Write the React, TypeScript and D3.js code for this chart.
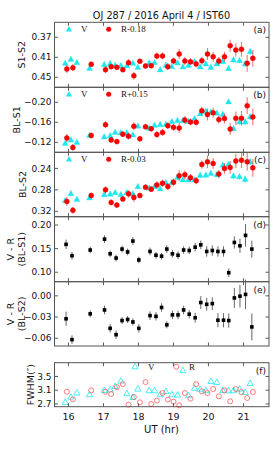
import React from "react";
import * as d3 from "d3";

// ---------- data ----------
const tV = [15.906,16.068,16.239,16.601,17.02,17.191,17.334,17.496,17.668,17.839,17.982,18.306,18.458,18.62,18.782,18.953,19.115,19.268,19.43,19.601,19.763,19.925,20.068,20.239,20.41,20.572,20.715,20.887,21.049,21.191];
const tR = [15.953,16.125,16.649,17.058,17.22,17.382,17.553,17.715,17.868,18.039,18.201,18.363,18.525,18.687,18.839,19.001,19.163,19.325,19.487,19.649,19.811,19.972,20.134,20.296,20.458,20.62,20.782,20.944,21.106,21.268];
const tVR = [15.93,16.10,16.62,17.03,17.19,17.36,17.53,17.69,17.84,18.01,18.33,18.50,18.66,18.81,18.97,19.13,19.29,19.45,19.62,19.78,19.95,20.11,20.27,20.43,20.58,20.74,20.90,21.06,21.24];

const aV = [0.422,0.414,0.4207,0.432,0.4247,0.4227,0.426,0.4267,0.4273,0.422,0.43,0.4213,0.4207,0.4353,0.426,0.4287,0.4213,0.4293,0.426,0.4193,0.4293,0.4233,0.43,0.4233,0.4187,0.4327,0.4153,0.4167,0.4233,0.3987];
const aR = [0.4333,0.4307,0.424,0.4347,0.4287,0.43,0.4347,0.4207,0.4467,0.418,0.4273,0.4267,0.4073,0.4073,0.4287,0.4173,0.4033,0.4173,0.4187,0.4233,0.4167,0.4033,0.4087,0.4173,0.4087,0.3867,0.3953,0.394,0.422,0.412];
const bV = [-0.118,-0.1247,-0.12,-0.1336,-0.1308,-0.1329,-0.1397,-0.139,-0.139,-0.1349,-0.1525,-0.1478,-0.1539,-0.1553,-0.1559,-0.1614,-0.1634,-0.1634,-0.162,-0.1675,-0.177,-0.1817,-0.1803,-0.1783,-0.1756,-0.2007,-0.1471,-0.1607,-0.1607,-0.1708];
const bR = [-0.1288,-0.1098,-0.1336,-0.1553,-0.1248,-0.1214,-0.1363,-0.1322,-0.152,-0.127,-0.151,-0.147,-0.1356,-0.1397,-0.1532,-0.15,-0.1485,-0.1647,-0.1607,-0.16,-0.183,-0.1756,-0.179,-0.1654,-0.1675,-0.1464,-0.1681,-0.1681,-0.1932,-0.1708];
const cV = [0.300,0.287,0.298,0.295,0.289,0.288,0.285,0.289,0.285,0.2874,0.274,0.2769,0.274,0.278,0.2665,0.2665,0.2566,0.2616,0.2616,0.2616,0.253,0.2524,0.2492,0.2518,0.2339,0.2326,0.2542,0.2555,0.2603,0.2278];
const cR = [0.3015,0.318,0.2905,0.28,0.3034,0.3082,0.2971,0.2874,0.2942,0.2905,0.275,0.2787,0.2708,0.2677,0.2739,0.2658,0.2536,0.2518,0.2573,0.2629,0.2326,0.2278,0.2308,0.2505,0.24,0.2382,0.226,0.2247,0.2278,0.239];
const errV = [0.003,0.003,0.003,0.003,0.003,0.003,0.003,0.003,0.003,0.003,0.003,0.003,0.003,0.003,0.003,0.003,0.003,0.003,0.003,0.003,0.004,0.004,0.004,0.004,0.004,0.004,0.005,0.005,0.006,0.006];
const errR = [0.008,0.0067,0.0053,0.0067,0.0053,0.0053,0.0053,0.0067,0.008,0.0053,0.0053,0.0053,0.0067,0.0067,0.0067,0.0067,0.01,0.008,0.0067,0.0067,0.008,0.012,0.01,0.008,0.01,0.012,0.0133,0.0147,0.0167,0.0167];

const dVR = [0.159,0.135,0.147,0.170,0.139,0.130,0.149,0.143,0.166,0.126,0.144,0.136,0.134,0.149,0.139,0.136,0.147,0.146,0.153,0.158,0.144,0.146,0.144,0.144,0.099,0.163,0.156,0.178,0.149];
const errD = [0.010,0.008,0.007,0.008,0.007,0.007,0.007,0.007,0.008,0.007,0.008,0.007,0.007,0.008,0.008,0.008,0.008,0.008,0.009,0.009,0.011,0.011,0.011,0.011,0.009,0.013,0.015,0.024,0.018];
const eVR = [-0.0325,-0.062,-0.0255,-0.020,-0.046,-0.055,-0.035,-0.0335,-0.037,-0.046,-0.028,-0.029,-0.0165,-0.041,-0.027,-0.027,-0.020,-0.026,-0.031,-0.0095,-0.012,-0.011,-0.0345,-0.0345,-0.035,-0.003,-0.0005,0.002,-0.044];
const errE = [0.010,0.006,0.005,0.006,0.006,0.006,0.005,0.005,0.005,0.006,0.006,0.006,0.006,0.005,0.006,0.006,0.006,0.006,0.007,0.009,0.009,0.009,0.010,0.010,0.010,0.014,0.016,0.021,0.019];

const fV = [2.748,2.902,3.018,2.97,3.095,3.114,3.21,3.365,3.0,2.89,3.134,3.086,3.086,2.97,3.066,2.97,2.96,3.67,2.94,3.16,3.13,3.095,3.355,3.327,3.095,3.086,3.086,3.134,3.037,3.297];
const fR = [3.057,2.835,3.095,3.057,2.989,3.19,3.278,2.68,2.902,2.748,3.336,2.70,2.796,3.018,2.826,2.768,2.66,3.018,2.854,3.278,3.066,3.018,3.134,2.922,3.095,2.777,3.134,3.047,2.873,3.047];

const xTicks = [16, 17, 18, 19, 20, 21];

// ---------- layout ----------
const W = 274, H = 457;
const L = 54.5, R = 269;
const x = d3.scaleLinear().domain([15.6, 21.73]).range([L, R]);

const CYAN = "#1ee8ee";
const RED = "#ff0000";

type Panel = {
  top: number; bottom: number; domain: [number, number]; invert: boolean;
  ticks: number[]; fmt: (v: number) => string; label: string[]; labelX: number; tag: string;
};

const minus = (s: string) => s.replace("-", "\u2212");
const f2 = (v: number) => minus(v.toFixed(2));
const f1 = (v: number) => v.toFixed(1);

const panels: Panel[] = [
  { top: 22.3, bottom: 87.3, domain: [0.34, 0.47], invert: true, ticks: [0.37, 0.41, 0.45], fmt: f2, label: ["S1-S2"], labelX: 22, tag: "(a)" },
  { top: 87.3, bottom: 152.3, domain: [-0.23, -0.10], invert: true, ticks: [-0.20, -0.16, -0.12], fmt: f2, label: ["BL-S1"], labelX: 17, tag: "(b)" },
  { top: 152.3, bottom: 216.7, domain: [0.21, 0.33], invert: true, ticks: [0.24, 0.28, 0.32], fmt: f2, label: ["BL-S2"], labelX: 23, tag: "(c)" },
  { top: 216.7, bottom: 281.7, domain: [0.08, 0.2175], invert: false, ticks: [0.10, 0.15, 0.20], fmt: f2, label: ["V - R", "(BL-S1)"], labelX: 18, tag: "(d)" },
  { top: 281.7, bottom: 346, domain: [-0.071, 0.02], invert: false, ticks: [-0.06, -0.03, 0.0], fmt: f2, label: ["V - R", "(BL-S2)"], labelX: 18, tag: "(e)" },
  { top: 362.7, bottom: 406.7, domain: [2.62, 3.9], invert: false, ticks: [2.7, 3.1, 3.5], fmt: f1, label: ["FWHM(\u2033)"], labelX: 31, tag: "(f)" },
];

const yScale = (p: Panel) =>
  d3.scaleLinear().domain(p.domain).range(p.invert ? [p.top, p.bottom] : [p.bottom, p.top]);

const tri = (cx: number, cy: number, s: number) =>
  `M${cx},${cy - s * 0.62}L${cx + s * 0.55},${cy + s * 0.38}L${cx - s * 0.55},${cy + s * 0.38}Z`;

const SANS = "DejaVu Sans, sans-serif";
const SERIF = "Liberation Serif, Times New Roman, serif";

function Frame({ p }: { p: Panel }) {
  const y = yScale(p);
  const tl = 3.5;
  return (
    <g>
      {xTicks.map((t) => (
        <g key={"x" + t}>
          <line x1={x(t)} x2={x(t)} y1={p.bottom} y2={p.bottom - tl} stroke="#333" strokeWidth={0.8} />
          <line x1={x(t)} x2={x(t)} y1={p.top} y2={p.top + tl} stroke="#333" strokeWidth={0.8} />
        </g>
      ))}
      {p.ticks.map((t) => (
        <g key={"y" + t}>
          <line x1={L} x2={L + tl} y1={y(t)} y2={y(t)} stroke="#333" strokeWidth={0.8} />
          <line x1={R} x2={R - tl} y1={y(t)} y2={y(t)} stroke="#333" strokeWidth={0.8} />
          <text x={L - 3} y={y(t)} dy="0.35em" textAnchor="end" fontSize={9} fontFamily={SANS} fill="#111">
            {p.fmt(t)}
          </text>
        </g>
      ))}
      <rect x={L} y={p.top} width={R - L} height={p.bottom - p.top} fill="none" stroke="#555" strokeWidth={1} />
      <text x={R - 3} y={p.top + 8} dy="0.35em" textAnchor="end" fontSize={9} fontFamily={SANS} fill="#111">
        {p.tag}
      </text>
      {p.label.length === 1 ? (
        <text transform={`translate(${p.labelX},${(p.top + p.bottom) / 2}) rotate(-90)`} textAnchor="middle" dy="0.35em" fontSize={9.5} fontFamily={SANS} fill="#111">
          {p.label[0]}
        </text>
      ) : (
        <g transform={`translate(${p.labelX},${(p.top + p.bottom) / 2}) rotate(-90)`}>
          <text textAnchor="middle" x={0} y={-4} fontSize={9.5} fontFamily={SANS} fill="#111">{p.label[0]}</text>
          <text textAnchor="middle" x={0} y={7} fontSize={9.5} fontFamily={SANS} fill="#111">{p.label[1]}</text>
        </g>
      )}
    </g>
  );
}

function MagPanel({ p, v, r, legend }: { p: Panel; v: number[]; r: number[]; legend: string }) {
  const y = yScale(p);
  const ly = p.top + 7;
  return (
    <g>
      <g clipPath="url(#clipAll)">
        {v.map((val, i) => (
          <g key={"v" + i}>
            <line x1={x(tV[i])} x2={x(tV[i])} y1={y(val - errV[i])} y2={y(val + errV[i])} stroke={CYAN} strokeWidth={1} />
            <path d={tri(x(tV[i]), y(val), 5.5)} fill={CYAN} stroke={CYAN} strokeWidth={0.3} />
          </g>
        ))}
        {r.map((val, i) => (
          <g key={"r" + i}>
            <line x1={x(tR[i])} x2={x(tR[i])} y1={y(val - errR[i])} y2={y(val + errR[i])} stroke={RED} strokeOpacity={0.55} strokeWidth={1.1} />
            <circle cx={x(tR[i])} cy={y(val)} r={2.5} fill={RED} stroke="#e00000" strokeWidth={0.4} />
          </g>
        ))}
      </g>
      <path d={tri(69, ly, 5.5)} fill={CYAN} />
      <text x={81} y={ly} dy="0.35em" fontSize={9} fontFamily={SERIF} fill="#111">V</text>
      <circle cx={108.7} cy={ly} r={2.5} fill={RED} />
      <text x={121} y={ly} dy="0.35em" fontSize={9} fontFamily={SERIF} fill="#111">{legend}</text>
    </g>
  );
}

function ColorPanel({ p, vals, errs }: { p: Panel; vals: number[]; errs: number[] }) {
  const y = yScale(p);
  return (
    <g>
      {vals.map((val, i) => (
        <g key={i}>
          <line x1={x(tVR[i])} x2={x(tVR[i])} y1={y(val - errs[i])} y2={y(val + errs[i])} stroke="#333" strokeOpacity={0.75} strokeWidth={1} />
          <rect x={x(tVR[i]) - 1.8} y={y(val) - 1.8} width={3.6} height={3.6} fill="#000" />
        </g>
      ))}
    </g>
  );
}

function FwhmPanel({ p }: { p: Panel }) {
  const y = yScale(p);
  const ly = p.top + 4;
  return (
    <g>
      {fV.map((val, i) => (
        <path key={"v" + i} d={tri(x(tV[i]), y(val), 5.5)} fill="none" stroke={CYAN} strokeWidth={0.8} />
      ))}
      {fR.map((val, i) => (
        <circle key={"r" + i} cx={x(tR[i])} cy={y(val)} r={2.5} fill="none" stroke="#ff5a5a" strokeWidth={0.8} />
      ))}
      <path d={tri(135, ly, 5.5)} fill="none" stroke={CYAN} strokeWidth={0.8} />
      <text x={148} y={ly} dy="0.35em" fontSize={9} fontFamily={SERIF} fill="#111">V</text>
      <circle cx={176.3} cy={ly} r={2.5} fill="none" stroke="#ff5a5a" strokeWidth={0.8} />
      <text x={189} y={ly} dy="0.35em" fontSize={9} fontFamily={SERIF} fill="#111">R</text>
    </g>
  );
}

export default function App() {
  const pf = panels[5];
  return (
    <svg width={W} height={H} style={{ position: "absolute", left: 0, top: 0, background: "#fff" }}>
      <defs>
        <clipPath id="clipAll"><rect x={L} y={22.3} width={R - L} height={216.7 - 22.3} /></clipPath>
      </defs>
      <rect width={W} height={H} fill="#fff" />
      <text x={161.5} y={16} dy="0.35em" textAnchor="middle" fontSize={9.7} fontFamily={SANS} fill="#111">
        OJ 287 / 2016 April 4 / IST60
      </text>
      <MagPanel p={panels[0]} v={aV} r={aR} legend="R-0.18" />
      <MagPanel p={panels[1]} v={bV} r={bR} legend="R+0.15" />
      <MagPanel p={panels[2]} v={cV} r={cR} legend="R-0.03" />
      <ColorPanel p={panels[3]} vals={dVR} errs={errD} />
      <ColorPanel p={panels[4]} vals={eVR} errs={errE} />
      <FwhmPanel p={pf} />
      {panels.map((p) => <Frame key={p.tag} p={p} />)}
      {xTicks.map((t) => (
        <text key={t} x={x(t)} y={417} dy="0.35em" textAnchor="middle" fontSize={9.5} fontFamily={SANS} fill="#111">{t}</text>
      ))}
      <text x={161.5} y={429} dy="0.35em" textAnchor="middle" fontSize={10} fontFamily={SANS} fill="#111">UT (hr)</text>
    </svg>
  );
}
